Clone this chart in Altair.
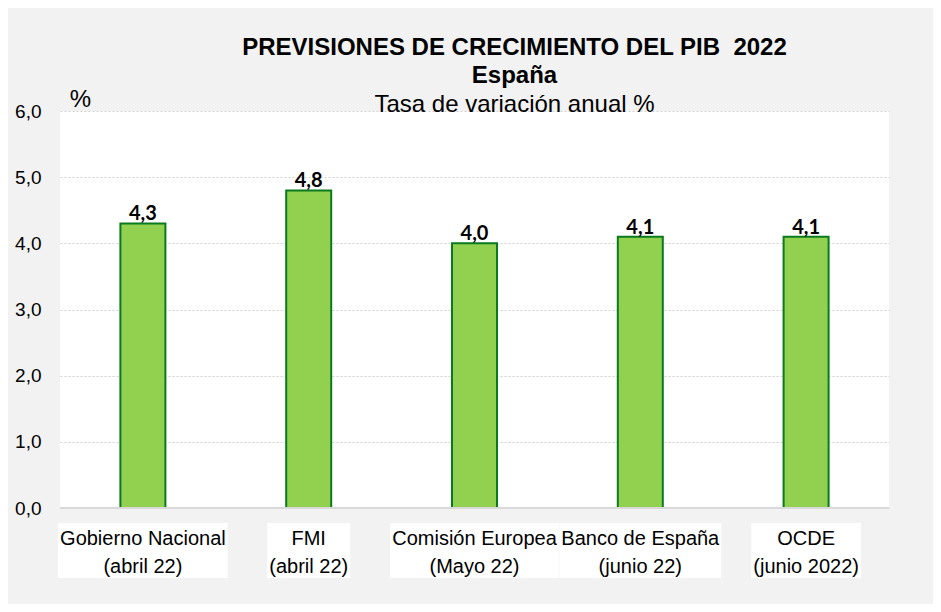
import altair as alt
import pandas as pd

# ---- data ----
categories = ["Gobierno Nacional\n(abril 22)", "FMI\n(abril 22)", "Comisión Europea\n(Mayo 22)",
              "Banco de España\n(junio 22)", "OCDE\n(junio 2022)"]
values = [4.3, 4.8, 4.0, 4.1, 4.1]
y_ticks = [0, 1, 2, 3, 4, 5, 6]

LABEL_FONT = "Liberation Sans"
LABEL_SIZE = 20

# approx Arial advance widths (per 1000 em) for label box sizing
_W = {c: 556 for c in "abdeghnopqu0123456789"}
_W.update({"c": 500, "k": 500, "s": 500, "v": 500, "x": 500, "y": 500, "z": 500,
           "f": 278, "t": 278, "i": 222, "j": 222, "l": 222, "r": 333, "m": 833, "w": 722,
           " ": 278, "(": 333, ")": 333, "ó": 556, "ñ": 556,
           "G": 778, "N": 722, "F": 611, "M": 833, "I": 278, "C": 722, "E": 667,
           "B": 667, "O": 778, "D": 722})


def text_w(s):
    return sum(_W.get(ch, 556) for ch in s) / 1000 * LABEL_SIZE


df = pd.DataFrame({
    "cat": categories,
    "val": values,
    "lbl": [f"{v:.1f}".replace(".", ",") for v in values],
    "boxw": [max(text_w(line) for line in c.split("\n")) + 4 for c in categories],
})

x = alt.X("cat:N", sort=categories, axis=None,
          scale=alt.Scale(paddingInner=0, paddingOuter=0))

y = alt.Y("val:Q",
          scale=alt.Scale(domain=[0, 6], nice=False),
          axis=alt.Axis(values=y_ticks, title="%", titleAngle=0, titleX=20, titleY=-5,
                        titleBaseline="alphabetic", titleAlign="center",
                        titleFont="Liberation Sans", titleFontSize=24, titleFontWeight="normal",
                        titleColor="#000000",
                        labelExpr="replace(format(datum.value, '.1f'), '.', ',')",
                        labelFont="Liberation Sans", labelFontSize=19, labelColor="#000000",
                        labelPadding=19, ticks=False, domain=False,
                        grid=True, gridColor="#d0d0d0", gridDash=[2, 2], gridWidth=1))

bars = alt.Chart(df).mark_bar(size=45, color="#92d050", stroke="#0a7a1e",
                              strokeWidth=2).encode(x=x, y=y)

base_line = alt.Chart(df).mark_rule(color="#d9d9d9", strokeWidth=2).encode(
    y=alt.datum(0), x=alt.value(0), x2=alt.value(829))

vals = alt.Chart(df).mark_text(font="Lato", fontWeight="bold", fontSize=20,
                               baseline="alphabetic", dy=-3, color="#000000").encode(
    x=x, y="val:Q", text="lbl:N")

boxes = alt.Chart(df).mark_bar(color="white").encode(
    x=x, y=alt.value(412), y2=alt.value(467),
    size=alt.Size("boxw:Q", scale=None, legend=None))

xlabels = alt.Chart(df).mark_text(font=LABEL_FONT, fontSize=LABEL_SIZE, lineBreak="\n",
                                  lineHeight=28, baseline="alphabetic", align="center",
                                  color="#000000").encode(
    x=x, y=alt.value(434), text="cat:N")

chart = alt.layer(bars, base_line, vals, boxes, xlabels).properties(
    width=829, height=397,
    title=alt.TitleParams(
        text=["PREVISIONES DE CRECIMIENTO DEL PIB \u00a02022", "España"],
        subtitle="Tasa de variación anual %",
        font="Liberation Sans", fontSize=24, fontWeight="bold", color="#000000",
        subtitleFont="Liberation Sans", subtitleFontSize=24, subtitleColor="#000000",
        lineHeight=28, subtitleLineHeight=28, subtitlePadding=5,
        anchor="middle", frame="group", dx=40, dy=30, offset=0),
    autosize=alt.AutoSizeParams(type="none"),
    padding={"left": 52, "top": 103, "right": 44, "bottom": 96},
    background="#f2f2f2",
).configure_view(fill="white", stroke=None)

chart.save("out.html", embed_options={"renderer": "svg", "actions": False})
